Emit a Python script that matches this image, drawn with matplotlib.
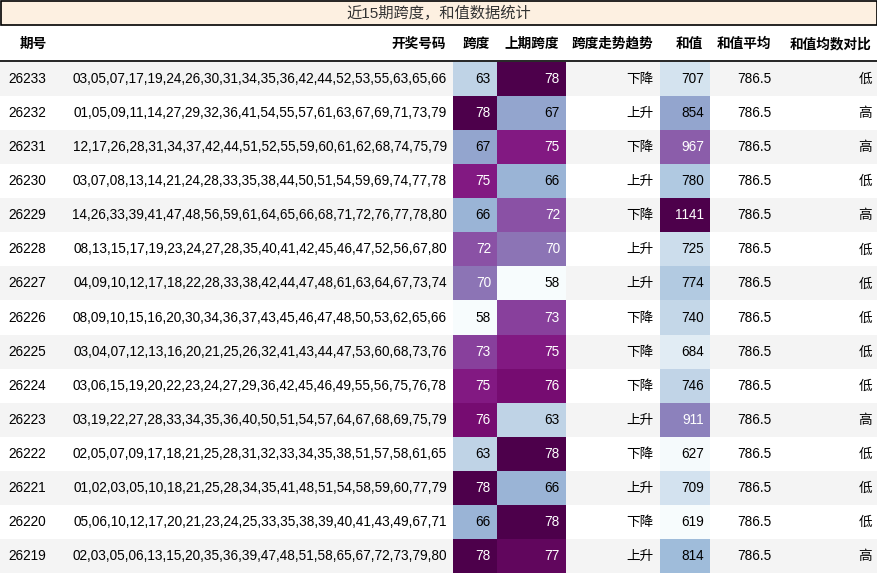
import matplotlib
matplotlib.use("Agg")
import matplotlib.pyplot as plt
from matplotlib import cm, colors

plt.rcParams['font.family'] = ['Liberation Sans', 'Noto Sans CJK SC', 'DejaVu Sans']

title = "近15期跨度，和值数据统计"
headers = ["期号", "开奖号码", "跨度", "上期跨度", "跨度走势趋势", "和值", "和值平均", "和值均数对比"]
periods = list(range(26233, 26218, -1))
numbers = [
 "03,05,07,17,19,24,26,30,31,34,35,36,42,44,52,53,55,63,65,66",
 "01,05,09,11,14,27,29,32,36,41,54,55,57,61,63,67,69,71,73,79",
 "12,17,26,28,31,34,37,42,44,51,52,55,59,60,61,62,68,74,75,79",
 "03,07,08,13,14,21,24,28,33,35,38,44,50,51,54,59,69,74,77,78",
 "14,26,33,39,41,47,48,56,59,61,64,65,66,68,71,72,76,77,78,80",
 "08,13,15,17,19,23,24,27,28,35,40,41,42,45,46,47,52,56,67,80",
 "04,09,10,12,17,18,22,28,33,38,42,44,47,48,61,63,64,67,73,74",
 "08,09,10,15,16,20,30,34,36,37,43,45,46,47,48,50,53,62,65,66",
 "03,04,07,12,13,16,20,21,25,26,32,41,43,44,47,53,60,68,73,76",
 "03,06,15,19,20,22,23,24,27,29,36,42,45,46,49,55,56,75,76,78",
 "03,19,22,27,28,33,34,35,36,40,50,51,54,57,64,67,68,69,75,79",
 "02,05,07,09,17,18,21,25,28,31,32,33,34,35,38,51,57,58,61,65",
 "01,02,03,05,10,18,21,25,28,34,35,41,48,51,54,58,59,60,77,79",
 "05,06,10,12,17,20,21,23,24,25,33,35,38,39,40,41,43,49,67,71",
 "02,03,05,06,13,15,20,35,36,39,47,48,51,58,65,67,72,73,79,80",
]
span = [63,78,67,75,66,72,70,58,73,75,76,63,78,66,78]
prev_span = [78,67,75,66,72,70,58,73,75,76,63,78,66,78,77]
trend = ["下降","上升","下降","上升","下降","上升","上升","下降","下降","下降","上升","下降","上升","下降","上升"]
sums = [707,854,967,780,1141,725,774,740,684,746,911,627,709,619,814]
avg = [786.5]*15
compare = ["低","高","高","低","高","低","低","低","低","低","高","低","低","低","高"]

W, H = 878, 573
fig = plt.figure(figsize=(W/100, H/100), dpi=100)
ax = fig.add_axes([0, 0, 1, 1])
ax.set_xlim(0, W); ax.set_ylim(H, 0); ax.axis('off')

# title
ax.add_patch(plt.Rectangle((1, 1), W-2, 24, facecolor='#fdf0e1', edgecolor='black', lw=1.2))
ax.text(W/2, 13.5, title, ha='center', va='center', fontsize=11, color='#333333')

# columns: left, right edges
edges = [0, 55, 453, 497, 566, 660, 710, 778, 878]
fs = 9.8
hy = 44
for i, h in enumerate(headers):
    if i == 0:
        ax.text(edges[0]+20, hy, h, ha='left', va='center', fontsize=fs, fontweight='bold')
    else:
        ax.text(edges[i+1]-7, hy, h, ha='right', va='center', fontsize=fs, fontweight='bold')
ax.plot([0, W], [61, 61], color='black', lw=1.2)

cmap = cm.get_cmap('BuPu')
snorm = colors.Normalize(58, 78)
hnorm = colors.Normalize(619, 1141)
top = 62; rh = (H - top) / 15
for r in range(15):
    y0 = top + r*rh; yc = y0 + rh/2
    if r % 2 == 0:
        ax.add_patch(plt.Rectangle((0, y0), W, rh, facecolor='#f4f4f4', edgecolor='none'))
    vals = [str(periods[r]), numbers[r], str(span[r]), str(prev_span[r]), trend[r],
            str(sums[r]), f"{avg[r]}", compare[r]]
    cvals = {2: snorm(span[r]), 3: snorm(prev_span[r]), 5: hnorm(sums[r])}
    for c, v in enumerate(vals):
        tc = 'black'
        if c in cvals:
            col = cmap(cvals[c])
            ax.add_patch(plt.Rectangle((edges[c], y0), edges[c+1]-edges[c], rh, facecolor=col, edgecolor='none'))
            if cvals[c] > 0.55:
                tc = 'white'
        if c == 0:
            ax.text(edges[0]+8, yc, v, ha='left', va='center', fontsize=fs, color=tc)
        else:
            ax.text(edges[c+1]-6, yc, v, ha='right', va='center', fontsize=fs, color=tc)

fig.savefig('out.png', dpi=100)
